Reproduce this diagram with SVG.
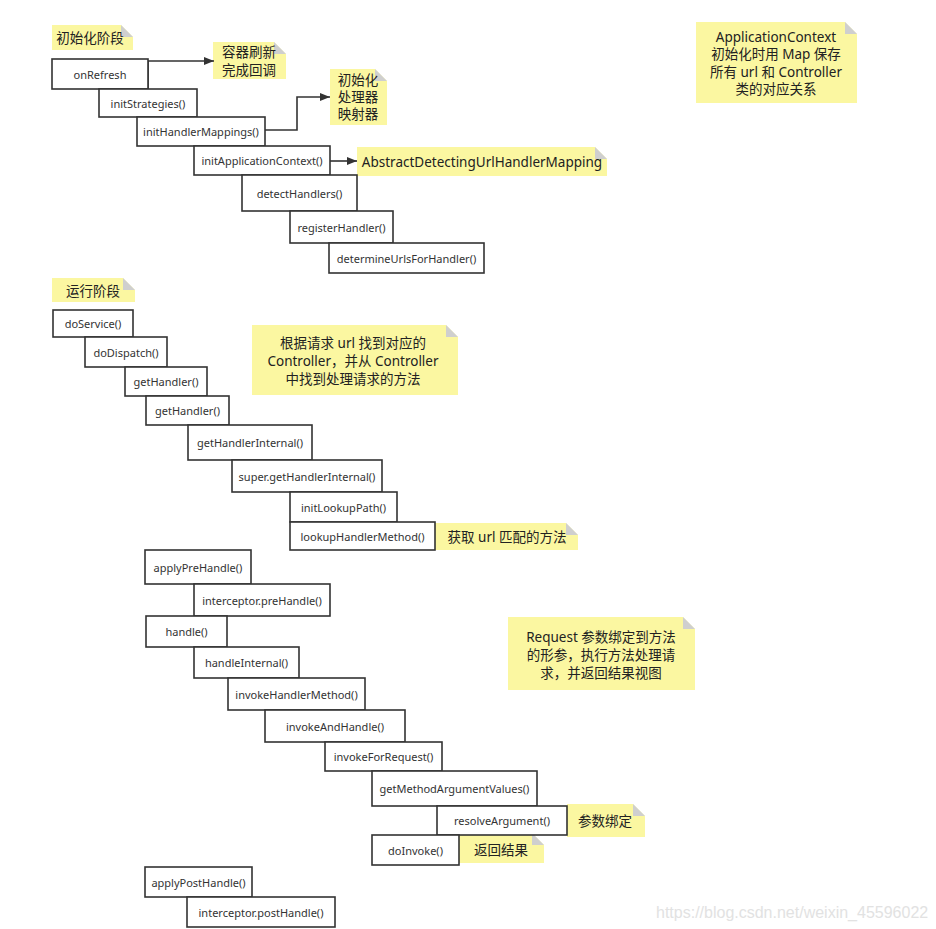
<svg xmlns="http://www.w3.org/2000/svg" width="936" height="929" viewBox="0 0 936 929">
<defs>
<style>
.box rect{fill:#fff;stroke:#333;stroke-width:1.6}
.box text{font-family:"Noto Sans","Noto Sans CJK SC",sans-serif;font-size:11px;fill:#333;text-anchor:middle;dominant-baseline:central}
.note .bg{fill:#fbf7a1}
.note .fold{fill:#cfcfcf}
.note text{font-family:"Noto Sans","Noto Sans CJK SC",sans-serif;font-size:13.5px;fill:#222;text-anchor:middle;dominant-baseline:central}
.conn path{fill:none;stroke:#333;stroke-width:1.6}
.wm{font-family:"Liberation Sans",sans-serif;font-size:16px;fill:#e2e2e2}
</style>
<marker id="arr" viewBox="0 0 10 8" refX="10" refY="4" markerWidth="10" markerHeight="8" markerUnits="userSpaceOnUse" orient="auto">
<path d="M0,0 L10,4 L0,8 Z" fill="#333"/>
</marker>
</defs>
<rect width="936" height="929" fill="#fff"/>

<!-- notes -->
<g id="note-init-stage" class="note"><path class="bg" d="M52,25 H121 L133,37 V50 H52 Z"/><path class="fold" d="M121,25 L133,37 H121 Z"/><text x="90" y="38">初始化阶段</text></g>
<g id="note-refresh" class="note"><path class="bg" d="M213,42 H274 L286,54 V79 H213 Z"/><path class="fold" d="M274,42 L286,54 H274 Z"/><text x="249" y="52">容器刷新</text><text x="249" y="70">完成回调</text></g>
<g id="note-mapper" class="note"><path class="bg" d="M330,69 H375 L387,81 V125 H330 Z"/><path class="fold" d="M375,69 L387,81 H375 Z"/><text x="358" y="80">初始化</text><text x="358" y="97">处理器</text><text x="358" y="114">映射器</text></g>
<g id="note-abstract" class="note"><path class="bg" d="M357,147 H595 L607,159 V176 H357 Z"/><path class="fold" d="M595,147 L607,159 H595 Z"/><text x="482" y="162">AbstractDetectingUrlHandlerMapping</text></g>
<g id="note-appctx" class="note"><path class="bg" d="M696,22 H845 L857,34 V103 H696 Z"/><path class="fold" d="M845,22 L857,34 H845 Z"/><text x="776" y="37">ApplicationContext</text><text x="776" y="54">初始化时用 Map 保存</text><text x="776" y="72">所有 url 和 Controller</text><text x="776" y="89">类的对应关系</text></g>
<g id="note-run-stage" class="note"><path class="bg" d="M52,278 H123 L135,290 V302 H52 Z"/><path class="fold" d="M123,278 L135,290 H123 Z"/><text x="93" y="291">运行阶段</text></g>
<g id="note-find" class="note"><path class="bg" d="M252,325 H446 L458,337 V395 H252 Z"/><path class="fold" d="M446,325 L458,337 H446 Z"/><text x="353" y="343">根据请求 url 找到对应的</text><text x="353" y="361">Controller，并从 Controller</text><text x="353" y="379">中找到处理请求的方法</text></g>
<g id="note-lookup" class="note"><path class="bg" d="M435,523 H566 L578,535 V550 H435 Z"/><path class="fold" d="M566,523 L578,535 H566 Z"/><text x="507" y="537">获取 url 匹配的方法</text></g>
<g id="note-request" class="note"><path class="bg" d="M508,617 H683 L695,629 V690 H508 Z"/><path class="fold" d="M683,617 L695,629 H683 Z"/><text x="601" y="637">Request 参数绑定到方法</text><text x="601" y="655">的形参，执行方法处理请</text><text x="601" y="673">求，并返回结果视图</text></g>
<g id="note-bind" class="note"><path class="bg" d="M567,804 H633 L645,816 V837 H567 Z"/><path class="fold" d="M633,804 L645,816 H633 Z"/><text x="605" y="821">参数绑定</text></g>
<g id="note-return" class="note"><path class="bg" d="M459,833 H532 L544,845 V863 H459 Z"/><path class="fold" d="M532,833 L544,845 H532 Z"/><text x="501" y="850">返回结果</text></g>

<!-- connectors -->
<g id="connectors" class="conn">
<path d="M148,89 V61 H214" marker-end="url(#arr)"/>
<path d="M265,130 H297 V97 H330" marker-end="url(#arr)"/>
<path d="M330,161 H357" marker-end="url(#arr)"/>
</g>

<!-- init boxes -->
<g id="n-onRefresh" class="box"><rect x="52" y="59" width="96" height="30"/><text x="100" y="74">onRefresh</text></g>
<g id="n-initStrategies" class="box"><rect x="99" y="89" width="98" height="28"/><text x="148" y="103">initStrategies()</text></g>
<g id="n-initHandlerMappings" class="box"><rect x="137" y="117" width="128" height="29"/><text x="201" y="131.5">initHandlerMappings()</text></g>
<g id="n-initApplicationContext" class="box"><rect x="194" y="146" width="136" height="29"/><text x="262" y="160.5">initApplicationContext()</text></g>
<g id="n-detectHandlers" class="box"><rect x="242" y="175" width="115" height="36"/><text x="299.5" y="193">detectHandlers()</text></g>
<g id="n-registerHandler" class="box"><rect x="290" y="211" width="103" height="32"/><text x="341.5" y="227">registerHandler()</text></g>
<g id="n-determineUrlsForHandler" class="box"><rect x="329" y="243" width="155" height="30"/><text x="406.5" y="258">determineUrlsForHandler()</text></g>

<!-- run boxes -->
<g id="n-doService" class="box"><rect x="53" y="310" width="80" height="27"/><text x="93" y="323.5">doService()</text></g>
<g id="n-doDispatch" class="box"><rect x="85" y="337" width="82" height="30"/><text x="126" y="352">doDispatch()</text></g>
<g id="n-getHandler1" class="box"><rect x="125" y="367" width="82" height="29"/><text x="166" y="381.5">getHandler()</text></g>
<g id="n-getHandler2" class="box"><rect x="146" y="396" width="83" height="29"/><text x="187.5" y="410.5">getHandler()</text></g>
<g id="n-getHandlerInternal" class="box"><rect x="188" y="425" width="124" height="35"/><text x="250" y="442.5">getHandlerInternal()</text></g>
<g id="n-superGetHandlerInternal" class="box"><rect x="232" y="460" width="150" height="32"/><text x="307" y="476">super.getHandlerInternal()</text></g>
<g id="n-initLookupPath" class="box"><rect x="290" y="492" width="107" height="30"/><text x="343.5" y="507">initLookupPath()</text></g>
<g id="n-lookupHandlerMethod" class="box"><rect x="290" y="522" width="145" height="28"/><text x="362.5" y="536">lookupHandlerMethod()</text></g>
<g id="n-applyPreHandle" class="box"><rect x="145" y="550" width="106" height="34"/><text x="198" y="567">applyPreHandle()</text></g>
<g id="n-interceptorPreHandle" class="box"><rect x="194" y="584" width="136" height="32"/><text x="262" y="600">interceptor.preHandle()</text></g>
<g id="n-handle" class="box"><rect x="146" y="616" width="81" height="31"/><text x="186.5" y="631.5">handle()</text></g>
<g id="n-handleInternal" class="box"><rect x="194" y="647" width="105" height="31"/><text x="246.5" y="662.5">handleInternal()</text></g>
<g id="n-invokeHandlerMethod" class="box"><rect x="228" y="678" width="137" height="32"/><text x="296.5" y="694">invokeHandlerMethod()</text></g>
<g id="n-invokeAndHandle" class="box"><rect x="265" y="710" width="140" height="32"/><text x="335" y="726">invokeAndHandle()</text></g>
<g id="n-invokeForRequest" class="box"><rect x="325" y="742" width="117" height="29"/><text x="383.5" y="756.5">invokeForRequest()</text></g>
<g id="n-getMethodArgumentValues" class="box"><rect x="372" y="771" width="165" height="35"/><text x="454.5" y="788.5">getMethodArgumentValues()</text></g>
<g id="n-resolveArgument" class="box"><rect x="437" y="806" width="130" height="29"/><text x="502" y="820.5">resolveArgument()</text></g>
<g id="n-doInvoke" class="box"><rect x="372" y="835" width="87" height="30"/><text x="415.5" y="850">doInvoke()</text></g>
<g id="n-applyPostHandle" class="box"><rect x="145" y="867" width="107" height="30"/><text x="198.5" y="882">applyPostHandle()</text></g>
<g id="n-interceptorPostHandle" class="box"><rect x="187" y="897" width="148" height="30"/><text x="261" y="912">interceptor.postHandle()</text></g>

<text class="wm" x="656" y="918">https://blog.csdn.net/weixin_45596022</text>
</svg>
